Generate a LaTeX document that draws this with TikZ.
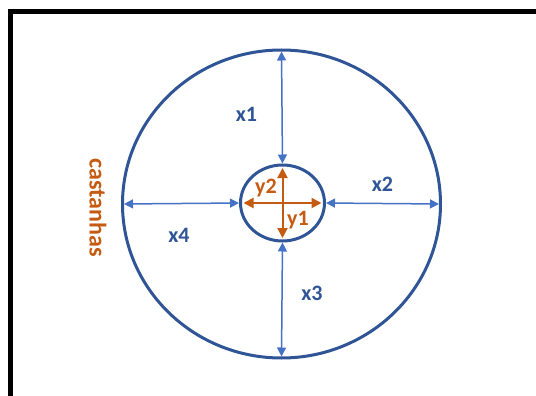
\documentclass[tikz,border=0pt]{standalone}
\usepackage{fontspec}
\setmainfont{Carlito}
\usetikzlibrary{shapes.geometric, arrows.meta, positioning}
\definecolor{ringblue}{HTML}{2F5597}
\definecolor{gapblue}{HTML}{4472C4}
\definecolor{nutorange}{HTML}{C55A11}

\begin{document}
\begin{tikzpicture}[x=1pt, y=-1pt,
    ring/.style={draw=ringblue, line width=3pt, ellipse, inner sep=0pt, outer sep=0pt},
    gap/.style={{Triangle[length=9pt, width=9pt]}-{Triangle[length=9pt, width=9pt]}, draw=gapblue, line width=1.5pt, shorten <=1.5pt, shorten >=1.5pt},
    kernel/.style={{Triangle[length=10pt, width=10pt]}-{Triangle[length=10pt, width=10pt]}, draw=nutorange, line width=2pt, shorten <=3pt, shorten >=3pt},
    xlabel/.style={text=ringblue, font=\fontsize{22}{22}\selectfont\bfseries},
    ylabel/.style={text=nutorange, font=\fontsize{22}{22}\selectfont\bfseries}]
    \useasboundingbox (0,0) rectangle (536,396);
    \draw [line width=5pt] (10.5,420) |- (560,12);

    \node [ring, minimum width=318pt, minimum height=308pt] (outer) at (281.5,204) {};
    \node [ring, minimum width=84pt, minimum height=76pt] (inner) at (282.5,203) {};

    \draw [gap] (outer.north) -- (inner.north);
    \draw [gap] (inner.east) -- (outer.east);
    \draw [gap] (inner.south) -- (outer.south);
    \draw [gap] (outer.west) -- (inner.west);

    \draw [kernel] (inner.west) -- (inner.east);
    \draw [kernel] (inner.north) -- (inner.south);

    \node [xlabel] (x1) at (246.5,114.5) {x1};
    \node [xlabel] (x2) at (382.5,184.5) {x2};
    \node [xlabel] (x3) at (312,293) {x3};
    \node [xlabel] (x4) at (179,235) {x4};
    \node [ylabel] (y2) at (266,188) {y2};
    \node [ylabel] (y1) at (298,220) {y1};
    \node [ylabel, rotate=-90, font=\fontsize{24}{24}\selectfont\bfseries] (nuts) at (98,207.5) {castanhas};
\end{tikzpicture}
\end{document}
